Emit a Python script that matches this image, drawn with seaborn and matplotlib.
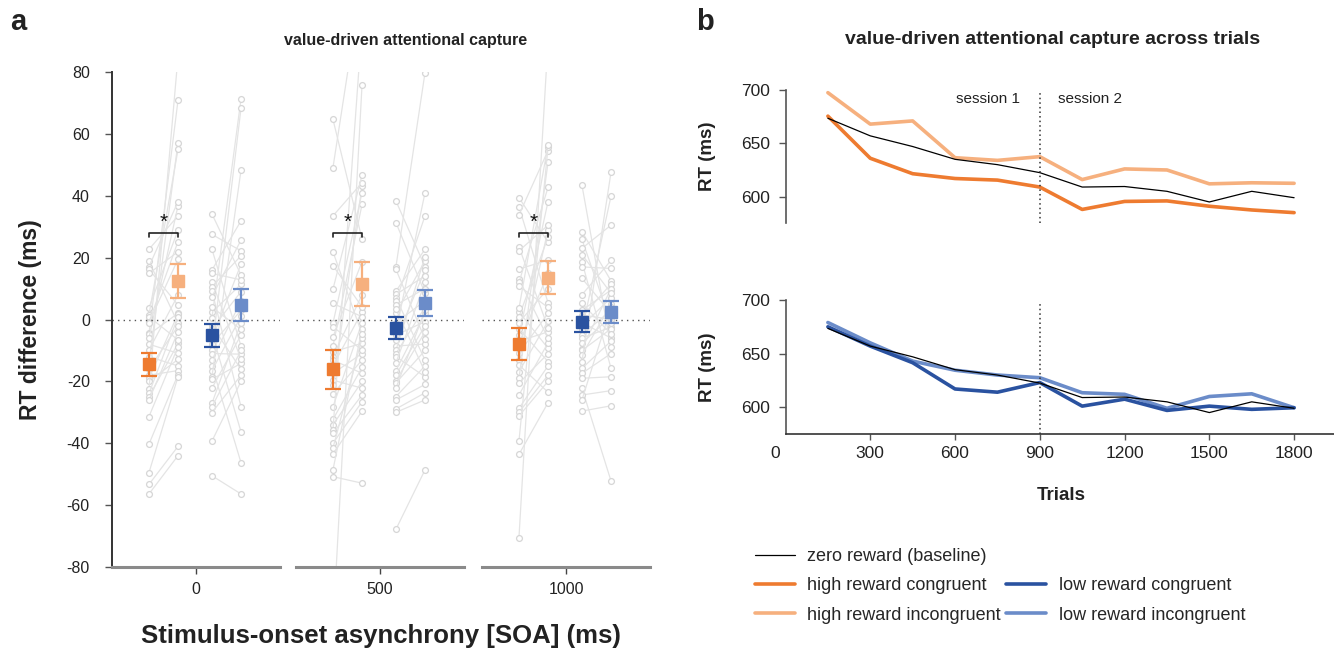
import numpy as np
import pandas as pd
import matplotlib
matplotlib.use("Agg")
import matplotlib.pyplot as plt
import matplotlib.transforms as mtransforms
import seaborn as sns
from matplotlib.lines import Line2D

sns.set_theme(style="white")
plt.rcParams["font.family"] = ["Liberation Sans", "DejaVu Sans"]

# ---------------- data: panel a ----------------
SOA_LABELS = ["0", "500", "1000"]

# individual subjects (RT difference, ms), paired HC->HI and LC->LI
HC_0 = [22.7, 18.8, 17.1, 16.2, 14.9, 3.8, 1.5, 0.9, -0.9, -1, -4.5, -4.8, -5.9, -8, -9.9, -12, -14, -16, -18, -19,
        -20, -22.6, -23.9, -25, -26, -31.4, -40.3, -49.5, -53.3, -56.4]
HI_0 = [33.5, -1.2, 38.1, 4.7, 21.9, 28.9, 55, -6.6, 25.2, 19.5, 70.9, 2, 36.8, -10.9, 7.9, -15, 57.2, -2.1, -16.5, 1.8,
        -12.9, 85, 0.9, -7.7, -4, -8.8, -17.8, -18.5, -41, -44]
LC_0 = [34.1, 27.5, 22.7, 16, 14.9, 12.2, 10.6, 9.2, 7.4, 4, 2.3, 0.5, -2, -3, -4.5, -6.4, -8, -9.9, -11, -13.1,
        -15, -16.5, -18.5, -19.3, -22.2, -27.1, -28.2, -30.1, -39.3, -50.5]
LI_0 = [14.4, 22.2, -8.6, 31.9, 12.8, -12.9, 20.6, -28.2, 25.7, -3.2, 11.4, 71.3, -16.1, 9, -36.3, 17.9, 3, 68.3, -11.2, 6,
        -46.3, 1, 48.3, -14.2, -5, -1, -10, -18, -20, -56.4]

HC_500 = [64.7, 49.1, 33.5, 21.9, 17.4, 9.8, 5.2, -1.2, -2.3, -5.6, -8.6, -10.4, -12, -13.1, -15, -17.4, -19.6, -21.2,
          -24, -28.2, -32.3, -34.1, -35.7, -36.8, -40, -41.6, -43.5, -48.6, -50.8, -100]
HI_500 = [26, 110, 44.2, -4.7, 4.1, 46.7, 0.9, 41, -9.9, 18.7, 37.2, -7.7, 8, -17.4, 2.5, -11, -22.2, 43,
          -13.1, -1, -15.5, -20, 95, -24.4, -26.6, -6, -29.6, -3, -52.9, 75.8]
LC_500 = [38.3, 31.3, 17.1, 16.2, 9.2, 8.1, 7, 6, 4.7, 3.3, 2, -1, -3.9, -5, -6.6, -8.6, -9.9, -11, -12, -14,
          -16.5, -17.9, -19.8, -20.5, -22.2, -24.9, -26, -28.9, -30, -67.8]
LI_500 = [17.1, 8.5, 79.8, -6.4, 22.7, 14.1, -13.1, 33.5, 10, -16.9, 19, 6, 41, -0.7, 16, -7.9, 20.3, 4, -18.5, 12,
          2, -2, -4, -10, 3, -15, -21, -23.7, -26, -48.6]

HC_1000 = [39.4, 36.5, 33.8, 23.5, 22.2, 16.3, 13.1, 12, 10.8, 3.6, 2.5, 0.9, -1, -3, -5, -7, -8, -10.9, -13, -14.7,
           -16.9, -19, -20.6, -24.4, -28.7, -30, -31.2, -39.3, -43.6, -70.5]
HI_1000 = [25, 5.4, 54.6, -2.7, 30.5, 19.2, -6.1, 42.7, 3.9, 56.4, -9.3, 26.6, 10, -13.6, 38.1, -4, 15, 2, 29, -23.5,
           -0.5, 50.8, -11, -7.5, -15, -18, -20, 55.6, -26.9, 90]
LC_1000 = [43.4, 28.4, 25.9, 23, 21, 18.7, 17, 13.3, 8, 5.2, 3, 1.5, 0.9, -1, -2, -3.4, -5, -6, -7.7, -9.5,
           -10, -11.5, -13.6, -15.8, -17.4, -19, -22.2, -24.4, -26, -29.6]
LI_1000 = [-9, 12.5, -1.2, 30.5, 8.5, -15.8, 16.5, 2, 19.1, -4.7, 9.5, 0, 11.5, -6, 7, 39.9, 3, -2.5, 1, 10,
           -3, 5, 47.6, -7, -11, -18.5, -52.2, -23, 4, -27.9]

# group means and SE (per SOA)
MEAN_HC = [-14.5, -16.1, -7.9]
SE_HC = [3.8, 6.3, 5.2]
MEAN_HI = [12.4, 11.5, 13.5]
SE_HI = [5.5, 7.0, 5.3]
MEAN_LC = [-5.1, -2.7, -0.7]
SE_LC = [3.7, 3.6, 3.3]
MEAN_LI = [4.6, 5.3, 2.5]
SE_LI = [5.2, 4.2, 3.6]
SIG_LEVEL = [28, 28, 28]

# ---------------- data: panel b ----------------
TRIALS = [150, 300, 450, 600, 750, 900, 1050, 1200, 1350, 1500, 1650, 1800]
RT_ZERO = [673.5, 657, 647, 635, 630, 622.5, 609, 609.5, 605, 595, 605, 599]
RT_HC = [675.5, 636, 621.5, 617, 615.5, 609, 588, 595.5, 596, 591, 587.5, 585]
RT_HI = [697.5, 668, 671, 636.5, 634, 637.5, 616, 626, 625, 612, 613, 612.5]
RT_LC = [675, 657, 641.5, 617, 614, 623, 601, 607.5, 597, 601, 598, 599.5]
RT_LI = [679, 660, 643, 634.5, 630, 627.5, 613.5, 612, 599, 610, 612.5, 599.5]

C_HC = "#EE7B30"
C_HI = "#F6B07E"
C_LC = "#2A52A0"
C_LI = "#6B8CC9"
C_SUBJ_LINE = "#E4E4E4"
C_SUBJ_MARK = "#D6D6D6"
C_TEXT = "#222222"

W, H = 1334, 648
fig = plt.figure(figsize=(W / 100, H / 100), dpi=100)


def fx(px):
    return px / W


def fy(py):
    return 1 - py / H


# ---------------- panel a ----------------
subj = {
    0: (HC_0, HI_0, LC_0, LI_0),
    1: (HC_500, HI_500, LC_500, LI_500),
    2: (HC_1000, HI_1000, LC_1000, LI_1000),
}
means = list(zip(MEAN_HC, MEAN_HI, MEAN_LC, MEAN_LI))
ses = list(zip(SE_HC, SE_HI, SE_LC, SE_LI))
cols = [C_HC, C_HI, C_LC, C_LI]
offs = [-0.28, -0.107, 0.095, 0.268]

lefts = [112, 296, 482]
axw = 168
a_bottom, a_top = 567, 72
for g in range(3):
    ax = fig.add_axes([fx(lefts[g]), fy(a_bottom), fx(axw), (a_bottom - a_top) / H])
    hc, hi, lc, li = subj[g]
    rows = []
    for i in range(len(hc)):
        rows.append(dict(x=offs[0], v=hc[i], u=f"h{i}"))
        rows.append(dict(x=offs[1], v=hi[i], u=f"h{i}"))
    for i in range(len(lc)):
        rows.append(dict(x=offs[2], v=lc[i], u=f"l{i}"))
        rows.append(dict(x=offs[3], v=li[i], u=f"l{i}"))
    df = pd.DataFrame(rows)
    sns.lineplot(data=df, x="x", y="v", units="u", estimator=None, ax=ax,
                 color=C_SUBJ_LINE, lw=0.9, marker="o", markersize=4.2,
                 markerfacecolor="white", markeredgecolor=C_SUBJ_MARK,
                 markeredgewidth=0.9, sort=False, legend=False, zorder=1)
    ax.axhline(0, color="#555555", lw=1.0, ls=(0, (1, 3)), zorder=2)
    for k in range(4):
        ax.errorbar(offs[k], means[g][k], yerr=ses[g][k], fmt="s", color=cols[k],
                    ms=9, capsize=6, elinewidth=1.6, capthick=1.6, zorder=4)
    # significance bracket
    yb = SIG_LEVEL[g]
    ax.plot([offs[0], offs[0], offs[1], offs[1]], [yb - 1.4, yb, yb, yb - 1.4],
            color="#222222", lw=1.2, zorder=5)
    ax.text((offs[0] + offs[1]) / 2, yb + 0.3, "*", ha="center", va="bottom",
            fontsize=15, color="#111111")
    ax.set_xlim(-0.5, 0.5)
    ax.set_ylim(-80, 80)
    ax.set_xticks([0])
    ax.set_xticklabels([SOA_LABELS[g]], fontsize=11.5, color=C_TEXT)
    ax.set_xlabel("")
    ax.set_ylabel("")
    for s in ["top", "right"]:
        ax.spines[s].set_visible(False)
    ax.spines["bottom"].set_color("#8a8a8a")
    ax.spines["bottom"].set_linewidth(2.2)
    ax.tick_params(axis="x", length=5, width=1, color="#444444", pad=6, direction="out", bottom=True)
    if g == 0:
        ax.spines["left"].set_color("#333333")
        ax.spines["left"].set_linewidth(1.4)
        ax.set_yticks(np.arange(-80, 81, 20))
        ax.set_yticklabels([str(v) for v in range(-80, 81, 20)], fontsize=11.5, color=C_TEXT)
        ax.tick_params(axis="y", length=5, width=1, color="#555555", direction="out", left=True, pad=11)
        ax.set_ylabel("RT difference (ms)", fontsize=16.5, fontweight="bold", color=C_TEXT)
        ax.yaxis.set_label_coords((42 - 112) / axw, 0.5)
    else:
        ax.spines["left"].set_visible(False)
        ax.set_yticks([])
    ax.set_facecolor("none")

fig.text(fx(381), fy(636), "Stimulus-onset asynchrony [SOA] (ms)", ha="center", va="center",
         fontsize=18.5, fontweight="bold", color=C_TEXT)
fig.text(fx(406), fy(40), "value-driven attentional capture", ha="center", va="center",
         fontsize=11.5, fontweight="bold", color=C_TEXT)
fig.text(fx(18), fy(22), "a", ha="center", va="center", fontsize=21, fontweight="bold", color=C_TEXT)
fig.text(fx(705), fy(22), "b", ha="center", va="center", fontsize=21, fontweight="bold", color=C_TEXT)
fig.text(fx(1053), fy(40), "value-driven attentional capture across trials", ha="center", va="center",
         fontsize=14, fontweight="bold", color=C_TEXT)

# ---------------- panel b ----------------
bl, bw = 785.5, 551
ax_t = fig.add_axes([fx(bl), fy(223.3), fx(bw), (223.3 - 90) / H])
ax_b = fig.add_axes([fx(bl), fy(434), fx(bw), (434 - 300) / H])

dfb = pd.DataFrame({"trial": TRIALS, "zero": RT_ZERO, "hc": RT_HC, "hi": RT_HI,
                    "lc": RT_LC, "li": RT_LI})

sns.lineplot(data=dfb, x="trial", y="hi", ax=ax_t, color=C_HI, lw=2.6, clip_on=False)
sns.lineplot(data=dfb, x="trial", y="hc", ax=ax_t, color=C_HC, lw=2.6, clip_on=False)
sns.lineplot(data=dfb, x="trial", y="zero", ax=ax_t, color="black", lw=0.9, clip_on=False)

sns.lineplot(data=dfb, x="trial", y="li", ax=ax_b, color=C_LI, lw=2.6, clip_on=False)
sns.lineplot(data=dfb, x="trial", y="lc", ax=ax_b, color=C_LC, lw=2.6, clip_on=False)
sns.lineplot(data=dfb, x="trial", y="zero", ax=ax_b, color="black", lw=0.9, clip_on=False)

for ax, ytop in [(ax_t, 699.5), (ax_b, 697)]:
    ax.set_xlim(0, 1950)
    ax.set_ylim(575, 700)
    ax.plot([900, 900], [575, ytop], color="#333333", lw=1.1, ls=(0, (1, 2)))
    ax.set_yticks([600, 650, 700])
    ax.set_yticklabels(["600", "650", "700"], fontsize=12.5, color=C_TEXT)
    ax.set_ylabel("RT (ms)", fontsize=13.5, fontweight="bold", color=C_TEXT)
    ax.yaxis.set_label_coords((716 - bl) / bw, 0.5)
    for s in ["top", "right"]:
        ax.spines[s].set_visible(False)
    ax.spines["left"].set_color("#555555")
    ax.spines["left"].set_linewidth(1.2)
    ax.tick_params(axis="y", length=5, width=1, color="#555555", left=True, pad=6)
    ax.set_facecolor("none")

ax_t.spines["bottom"].set_visible(False)
ax_t.set_xticks([])
ax_t.set_xlabel("")
ax_t.text(717, 692, "session 1", ha="center", va="center", fontsize=11, color=C_TEXT)
ax_t.text(1079, 692, "session 2", ha="center", va="center", fontsize=11, color=C_TEXT)

ax_b.spines["bottom"].set_color("#333333")
ax_b.spines["bottom"].set_linewidth(1.2)
ax_b.set_xticks([0, 300, 600, 900, 1200, 1500, 1800])
ax_b.set_xticklabels(["0", "300", "600", "900", "1200", "1500", "1800"], fontsize=12.5, color=C_TEXT)
ax_b.tick_params(axis="x", length=4, width=1, color="#555555", bottom=True, pad=5)
ax_b.set_xlabel("Trials", fontsize=13.5, fontweight="bold", color=C_TEXT, labelpad=18)
# the "0" label sits slightly left of the axis origin in the reference
lbl0 = ax_b.get_xticklabels()[0]
lbl0.set_transform(lbl0.get_transform() + mtransforms.ScaledTranslation(-0.10, 0, fig.dpi_scale_trans))
ax_b.xaxis.get_major_ticks()[0].tick1line.set_visible(False)

# legend
handles = [
    Line2D([], [], color="black", lw=0.9),
    Line2D([], [], color=C_HC, lw=2.6),
    Line2D([], [], color=C_HI, lw=2.6),
    Line2D([], [], color="none"),
    Line2D([], [], color=C_LC, lw=2.6),
    Line2D([], [], color=C_LI, lw=2.6),
]
labels = ["zero reward (baseline)", "high reward congruent", "high reward incongruent",
          "", "low reward congruent", "low reward incongruent"]
fig.legend(handles, labels, ncol=2, loc="upper left", bbox_to_anchor=(fx(755), fy(548)),
           frameon=False, fontsize=13, handlelength=2.2, handletextpad=0.7,
           labelspacing=0.68, columnspacing=0.3, borderpad=0, borderaxespad=0)

fig.savefig("out.png", dpi=100)
